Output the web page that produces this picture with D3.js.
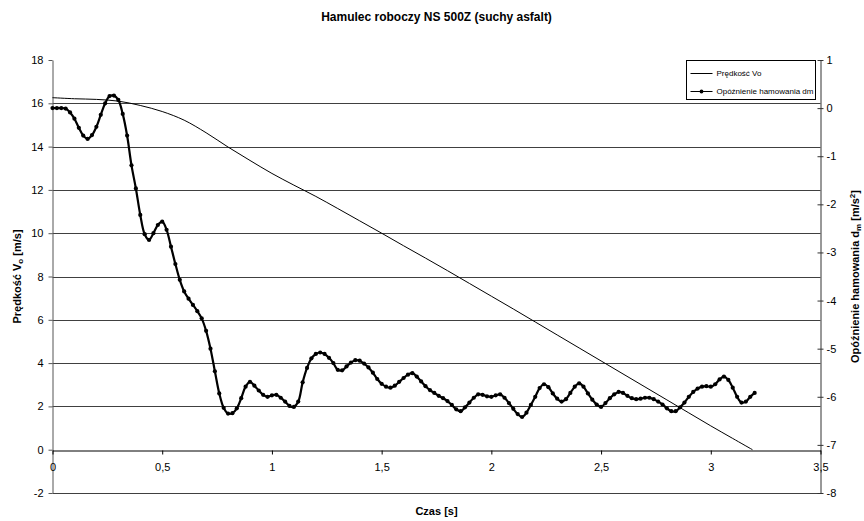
<!DOCTYPE html>
<html>
<head>
<meta charset="utf-8">
<script src="https://cdn.jsdelivr.net/npm/d3@7"></script>
<style>
  html, body { margin: 0; padding: 0; background: #fff; }
  svg { display: block; }
</style>
</head>
<body>
<div id="chart"></div>
<script>
const chartTitle = "Hamulec roboczy NS 500Z (suchy asfalt)";
const seriesNames = ["Prędkość Vo", "Opóźnienie hamowania dm"];

// czas [s] i prędkość Vo [m/s]
const speedTime = [0, 0.1, 0.2, 0.3, 0.4, 0.5, 0.6, 0.7, 0.8, 0.9, 1.0, 1.1, 1.2, 1.3, 1.4, 1.5,
  1.6, 1.7, 1.8, 1.9, 2.0, 2.1, 2.2, 2.3, 2.4, 2.5, 2.6, 2.7, 2.8, 2.9, 3.0, 3.1, 3.19];
const speedValues = [16.26, 16.21, 16.18, 16.10, 15.90, 15.62, 15.22, 14.64, 13.98, 13.36, 12.76, 12.22,
  11.70, 11.14, 10.57, 10.00, 9.42, 8.85, 8.27, 7.68, 7.09, 6.50, 5.90, 5.30, 4.70, 4.10, 3.50,
  2.90, 2.30, 1.70, 1.10, 0.52, 0.0];

// opóźnienie dm [m/s2], próbki co 0,02 s od 0 do 3,2 s
const decelStep = 0.02;
const decelValues = [
  0.00, 0.00, 0.00, -0.01, -0.09, -0.22, -0.41, -0.57, -0.64, -0.56,
  -0.39, -0.14, 0.10, 0.25, 0.26, 0.17, -0.12, -0.57, -1.19, -1.67,
  -2.22, -2.62, -2.74, -2.60, -2.43, -2.36, -2.53, -2.88, -3.24, -3.57,
  -3.81, -3.96, -4.09, -4.22, -4.37, -4.63, -5.00, -5.47, -5.93, -6.23,
  -6.35, -6.34, -6.24, -6.03, -5.79, -5.69, -5.77, -5.87, -5.96, -6.00,
  -5.97, -5.96, -6.02, -6.10, -6.19, -6.21, -6.10, -5.70, -5.40, -5.20,
  -5.11, -5.08, -5.11, -5.19, -5.30, -5.44, -5.45, -5.37, -5.29, -5.24,
  -5.25, -5.31, -5.39, -5.50, -5.63, -5.73, -5.79, -5.81, -5.77, -5.69,
  -5.61, -5.54, -5.51, -5.58, -5.68, -5.78, -5.86, -5.92, -5.98, -6.03,
  -6.09, -6.17, -6.26, -6.30, -6.22, -6.12, -6.02, -5.95, -5.96, -5.99,
  -6.00, -5.97, -5.95, -6.02, -6.13, -6.25, -6.36, -6.42, -6.33, -6.17,
  -6.00, -5.82, -5.74, -5.80, -5.93, -6.04, -6.10, -6.05, -5.92, -5.79,
  -5.72, -5.79, -5.93, -6.06, -6.16, -6.21, -6.13, -6.03, -5.95, -5.90,
  -5.92, -5.98, -6.03, -6.05, -6.04, -6.02, -6.02, -6.05, -6.10, -6.16,
  -6.24, -6.30, -6.30, -6.22, -6.12, -6.00, -5.90, -5.83, -5.79, -5.78,
  -5.79, -5.74, -5.64, -5.58, -5.65, -5.81, -6.00, -6.12, -6.10, -6.00,
  -5.92
];

const xTicks = [0, 0.5, 1, 1.5, 2, 2.5, 3, 3.5];
const leftTicks = [-2, 0, 2, 4, 6, 8, 10, 12, 14, 16, 18];
const rightTicks = [-8, -7, -6, -5, -4, -3, -2, -1, 0, 1];

const width = 864;
const height = 521;
const margin = { top: 60, right: 43.5, bottom: 28, left: 52.5 };
const font = "'Liberation Sans', Arial, sans-serif";

const speed = speedTime.map((t, i) => ({ t, v: speedValues[i] }));
const decel = decelValues.map((v, i) => ({ t: +(i * decelStep).toFixed(2), v }));

const svg = d3.select("#chart").append("svg")
  .attr("width", width)
  .attr("height", height)
  .attr("viewBox", [0, 0, width, height])
  .style("font-family", font);

const x = d3.scaleLinear([0, 3.5], [margin.left, width - margin.right]);
const yL = d3.scaleLinear([-2, 18], [height - margin.bottom, margin.top]);
const yR = d3.scaleLinear([-8, 1], [height - margin.bottom, margin.top]);

// przecinek dziesiętny, zwykły minus
const comma = d => String(d).replace(".", ",");

// siatka pozioma (oś lewa)
svg.append("g")
  .selectAll("line")
  .data(leftTicks.filter(d => d !== 0 && d !== 18))
  .join("line")
  .attr("x1", x(0))
  .attr("x2", x(3.5))
  .attr("y1", d => Math.round(yL(d)) + 0.5)
  .attr("y2", d => Math.round(yL(d)) + 0.5)
  .attr("stroke", "#404040")
  .attr("stroke-width", 1);

// oś lewa
svg.append("g")
  .attr("transform", `translate(${margin.left},0)`)
  .call(d3.axisLeft(yL).tickValues(leftTicks).tickFormat(comma).tickSize(4).tickPadding(5).tickSizeOuter(0))
  .call(g => g.selectAll("text").attr("font-size", 11).attr("font-family", font).attr("fill", "#000"))
  .call(g => g.selectAll("line, path").attr("stroke", "#555"));

// oś prawa
svg.append("g")
  .attr("transform", `translate(${width - margin.right},0)`)
  .call(d3.axisRight(yR).tickValues(rightTicks).tickFormat(comma).tickSize(3).tickPadding(3).tickSizeOuter(0))
  .call(g => g.selectAll(".tick line").attr("x1", -3))
  .call(g => g.selectAll("text").attr("font-size", 11).attr("font-family", font).attr("fill", "#000"))
  .call(g => g.selectAll("line, path").attr("stroke", "#333"));

// oś czasu na poziomie 0
svg.append("g")
  .attr("transform", `translate(0,${Math.round(yL(0)) + 0.5})`)
  .call(d3.axisBottom(x).tickValues(xTicks).tickFormat(comma).tickSize(4).tickPadding(9).tickSizeOuter(0))
  .call(g => g.selectAll("text").attr("font-size", 11).attr("font-family", font).attr("fill", "#000"))
  .call(g => g.selectAll("line, path").attr("stroke", "#000"));

// prędkość
svg.append("path")
  .datum(speed)
  .attr("fill", "none")
  .attr("stroke", "#000")
  .attr("stroke-width", 1)
  .attr("d", d3.line().x(d => x(d.t)).y(d => yL(d.v)).curve(d3.curveCatmullRom));

// opóźnienie
svg.append("path")
  .datum(decel)
  .attr("fill", "none")
  .attr("stroke", "#000")
  .attr("stroke-width", 2.2)
  .attr("d", d3.line().x(d => x(d.t)).y(d => yR(d.v)).curve(d3.curveCatmullRom));

svg.append("g")
  .selectAll("circle")
  .data(decel)
  .join("circle")
  .attr("cx", d => x(d.t))
  .attr("cy", d => yR(d.v))
  .attr("r", 2.1)
  .attr("fill", "#000");

// tytuły
svg.append("text")
  .attr("x", (x(0) + x(3.5)) / 2)
  .attr("y", 21)
  .attr("text-anchor", "middle")
  .attr("font-size", 12)
  .attr("font-weight", "bold")
  .text(chartTitle);

svg.append("text")
  .attr("x", (x(0) + x(3.5)) / 2)
  .attr("y", 515)
  .attr("text-anchor", "middle")
  .attr("font-size", 11)
  .attr("font-weight", "bold")
  .text("Czas [s]");

const leftTitle = svg.append("text")
  .attr("transform", `translate(21,${(yL(-2) + yL(18)) / 2}) rotate(-90)`)
  .attr("text-anchor", "middle")
  .attr("font-size", 11)
  .attr("font-weight", "bold");
leftTitle.append("tspan").text("Prędkość V");
leftTitle.append("tspan").attr("font-size", 8).attr("dy", 2).text("o");
leftTitle.append("tspan").attr("dy", -2).text(" [m/s]");

const rightTitle = svg.append("text")
  .attr("transform", `translate(859,${(yR(-8) + yR(1)) / 2}) rotate(-90)`)
  .attr("text-anchor", "middle")
  .attr("font-size", 11)
  .attr("font-weight", "bold");
rightTitle.append("tspan").text("Opóźnienie hamowania d");
rightTitle.append("tspan").attr("font-size", 8).attr("dy", 2).text("m");
rightTitle.append("tspan").attr("dy", -2).text(" [m/s");
rightTitle.append("tspan").attr("font-size", 8).attr("dy", -4).text("2");
rightTitle.append("tspan").attr("dy", 4).text("]");

// legenda
const legend = svg.append("g").attr("transform", "translate(686.5,60.5)");
legend.append("rect")
  .attr("width", 129)
  .attr("height", 39)
  .attr("fill", "#fff")
  .attr("stroke", "#000");

const items = legend.selectAll("g.item")
  .data(seriesNames)
  .join("g")
  .attr("class", "item")
  .attr("transform", (d, i) => `translate(0,${13 + i * 18})`);

items.append("line")
  .attr("x1", 4)
  .attr("x2", 26)
  .attr("stroke", "#000")
  .attr("stroke-width", 1);

items.filter((d, i) => i === 1).append("circle")
  .attr("cx", 15)
  .attr("r", 1.9)
  .attr("fill", "#000");

items.append("text")
  .attr("x", 30)
  .attr("dy", "0.35em")
  .attr("font-size", 8)
  .text(d => d);
</script>
</body>
</html>
